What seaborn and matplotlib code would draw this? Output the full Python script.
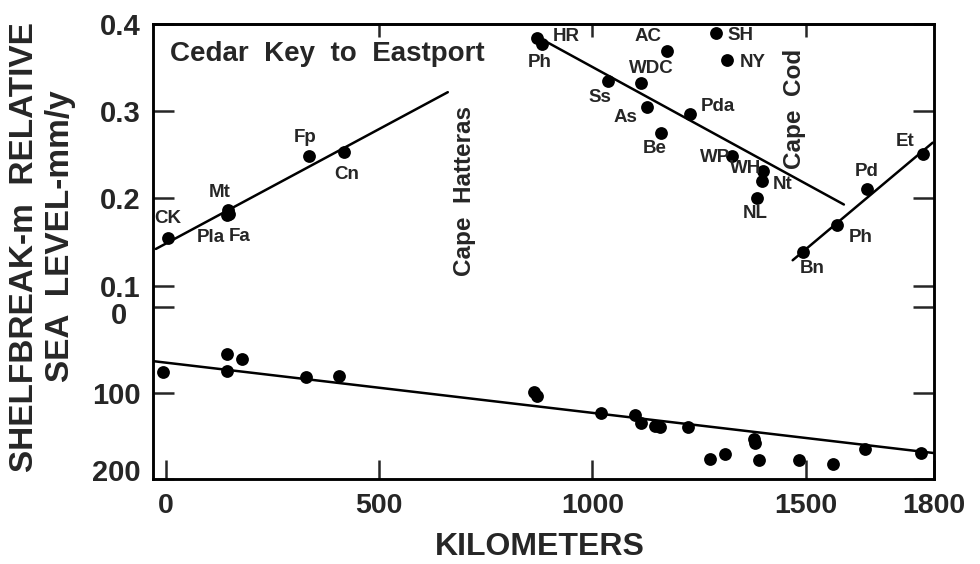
import pandas as pd
import seaborn as sns
import matplotlib
matplotlib.use("Agg")
import matplotlib.pyplot as plt
import matplotlib.transforms as mtransforms

# ---------------------------------------------------------------------------
# data
# ---------------------------------------------------------------------------
# relative sea level trend stations (distance along coast in km, rate mm/y)
station = ["CK", "Mt", "Pla", "Fa", "Fp", "Cn", "HR", "Ph", "Ss", "WDC", "AC", "As",
           "Be", "Pda", "SH", "NY", "WP", "WH", "Nt", "NL", "Bn", "Ph", "Pd", "Et"]
station_km = [5, 145, 143, 148, 335, 417, 869, 881, 1036, 1113, 1174, 1127,
              1160, 1228, 1289, 1315, 1326, 1399, 1397, 1385, 1493, 1572, 1643, 1774]
station_rate = [0.154, 0.187, 0.181, 0.182, 0.249, 0.253, 0.384, 0.377, 0.335, 0.333, 0.369, 0.305,
                0.275, 0.297, 0.390, 0.359, 0.249, 0.231, 0.220, 0.201, 0.139, 0.169, 0.211, 0.251]

# hand fitted trend segments (end points)
seg_south_km = [-23, 661]
seg_south_rate = [0.142, 0.322]
seg_mid_km = [869, 1589]
seg_mid_rate = [0.386, 0.193]
seg_north_km = [1469, 1797]
seg_north_rate = [0.129, 0.264]

# shelfbreak depth (m) along the coast
shelf_km = [-7, 143, 178, 143, 328, 406, 863, 869, 1020, 1099, 1113, 1146, 1158,
            1223, 1275, 1310, 1380, 1378, 1390, 1483, 1563, 1638, 1769]
shelf_depth = [76, 55, 60, 74, 81, 80, 99, 104, 123, 126, 135, 138, 140,
               140, 177, 171, 158, 154, 178, 178, 183, 165, 170]
shelf_fit_km = [-30, 1800]
shelf_fit_depth = [63, 170]

x_ticks = [0, 500, 1000, 1500, 1800]
rate_ticks = [0.1, 0.2, 0.3, 0.4]
depth_ticks = [0, 100, 200]

# label offsets in pixels (dx, dy) for station names
label_offsets = [(0, 20), (-8, 17), (-16, -23), (11, -22), (-4, 18), (3, -22), (30, 2), (-2, -18),
                 (-8, -17), (11, 14), (-19, 15), (-21, -11), (-6, -15), (28, 7), (25, -3), (26, -3),
                 (-17, -2), (-17, 3), (21, -3), (-2, -16), (9, -17), (24, -12), (0, 17), (-18, 13)]

# ---------------------------------------------------------------------------
# style
# ---------------------------------------------------------------------------
sns.set_style("ticks", {"xtick.direction": "in", "ytick.direction": "in"})
plt.rcParams["font.family"] = ["Liberation Sans", "DejaVu Sans"]
plt.rcParams["font.weight"] = "bold"

df_sl = pd.DataFrame({"km": station_km, "rate": station_rate, "name": station})
df_shelf = pd.DataFrame({"km": shelf_km, "depth": shelf_depth})

fig = plt.figure(figsize=(9.8, 5.64), dpi=100)
ax = fig.add_axes([0.156, 0.151, 0.797, 0.806])
ax2 = ax.twinx()

# upper panel: sea level trends
sns.scatterplot(data=df_sl, x="km", y="rate", ax=ax, color="black", s=85,
                linewidth=0, legend=False, zorder=3)
for xs, ys in [(seg_south_km, seg_south_rate), (seg_mid_km, seg_mid_rate),
               (seg_north_km, seg_north_rate)]:
    sns.lineplot(x=xs, y=ys, ax=ax, color="black", lw=1.8, estimator=None, sort=False)

for (name, xk, yr), (dx, dy) in zip(zip(station, station_km, station_rate), label_offsets):
    ax.annotate(name, (xk, yr), xytext=(dx, dy), textcoords="offset pixels",
                ha="center", va="center", fontsize=13.5, fontweight="bold")

# lower panel: shelfbreak depth
sns.scatterplot(data=df_shelf, x="km", y="depth", ax=ax2, color="black", s=85,
                linewidth=0, legend=False, zorder=3)
sns.lineplot(x=shelf_fit_km, y=shelf_fit_depth, ax=ax2, color="black", lw=1.8,
             estimator=None, sort=False)

ax.set_xlim(-30, 1800)
ax.set_ylim(-0.122, 0.4)
ax2.set_ylim(200, -329)

ax.set_xticks(x_ticks)
ax.set_xticklabels([str(t) for t in x_ticks])
ax.set_yticks(rate_ticks)
ax.set_yticklabels([f"{t:.1f}" for t in rate_ticks])
ax2.set_yticks(depth_ticks)
ax2.set_yticklabels([str(t) for t in depth_ticks])

ax.tick_params(axis="x", which="both", direction="in", length=14, width=1.8,
               top=False, bottom=True, labelsize=20.5, pad=10)
ax.tick_params(axis="y", direction="in", length=15, width=1.8, left=True, right=True,
               labelleft=True, labelright=False, labelsize=21, pad=9)
ax2.tick_params(axis="y", direction="in", length=15, width=1.8, left=True, right=True,
                labelleft=True, labelright=False, labelsize=21, pad=9)
for lab in ax.get_xticklabels() + ax.get_yticklabels() + ax2.get_yticklabels():
    lab.set_fontweight("bold")

secax = ax.secondary_xaxis("top")
secax.set_xticks([500, 1000, 1500])
secax.tick_params(direction="in", length=9, width=1.8, labeltop=False)

for a in (ax, ax2):
    for sp in a.spines.values():
        sp.set_linewidth(1.8)
        sp.set_color("black")
for sp in secax.spines.values():
    sp.set_linewidth(1.8)

ax.set_xlabel("")
ax.set_ylabel("")
ax2.set_ylabel("")

# nudge a couple of depth labels like the original
for lab in ax2.get_yticklabels():
    if lab.get_text() == "200":
        lab.set_transform(lab.get_transform() + mtransforms.ScaledTranslation(0, 0.09, fig.dpi_scale_trans))
    if lab.get_text() == "0":
        lab.set_transform(lab.get_transform() + mtransforms.ScaledTranslation(-0.13, -0.06, fig.dpi_scale_trans))

# annotations
ax.text(9, 0.366, "Cedar  Key  to  Eastport", fontsize=20, fontweight="bold",
        ha="left", va="center")
ax.text(700, 0.209, "Cape  Hatteras", fontsize=17.5, fontweight="bold",
        rotation=90, ha="center", va="center")
ax.text(1474, 0.303, "Cape  Cod", fontsize=17.5, fontweight="bold",
        rotation=90, ha="center", va="center")

fig.text(25 / 980, 1 - 247 / 564, "SHELFBREAK-m  RELATIVE", rotation=90, fontsize=24,
         fontweight="bold", ha="center", va="center")
fig.text(61 / 980, 1 - 236 / 564, "SEA  LEVEL-mm/y", rotation=90, fontsize=24,
         fontweight="bold", ha="center", va="center")
fig.text(540 / 980, 1 - 547 / 564, "KILOMETERS", fontsize=23, fontweight="bold",
         ha="center", va="center")

fig.savefig("out.png", dpi=100)
